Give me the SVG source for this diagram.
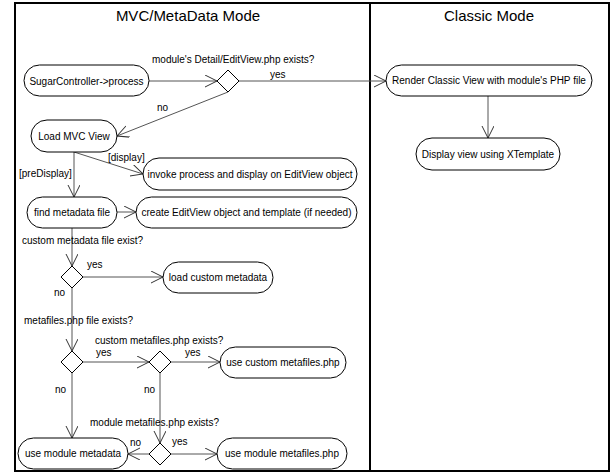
<svg xmlns="http://www.w3.org/2000/svg" width="612" height="475" viewBox="0 0 612 475">
<style>
.n{fill:#fff;stroke:#000;stroke-width:1}
.t{font-family:"Liberation Sans",Arial,sans-serif;font-size:10px;fill:#000}
.c{stroke:#555;stroke-width:1;fill:none;marker-end:url(#a)}
.h{font-family:"Liberation Sans",Arial,sans-serif;font-size:15px;fill:#000;text-anchor:middle}
</style>
<defs><marker id="a" markerWidth="14" markerHeight="14" refX="12" refY="6" orient="auto" markerUnits="userSpaceOnUse"><path d="M0,0L12,6L0,12" fill="none" stroke="#333" stroke-width="1"/></marker></defs>
<rect x="0" y="0" width="612" height="475" fill="#fff"/>
<rect x="15" y="3" width="594" height="468" fill="none" stroke="#000" stroke-width="2"/>
<line x1="370" y1="3" x2="370" y2="471" stroke="#000" stroke-width="2"/>
<text class="h" x="188" y="21">MVC/MetaData Mode</text>
<text class="h" x="489" y="21">Classic Mode</text>
<g id="connectors">
<line class="c" x1="149" y1="81" x2="217" y2="81"/>
<line class="c" x1="239" y1="81" x2="386" y2="81"/>
<line class="c" x1="228" y1="92" x2="117" y2="136"/>
<line class="c" x1="488" y1="96" x2="488" y2="138"/>
<line class="c" x1="74" y1="152" x2="143" y2="174"/>
<line class="c" x1="74" y1="152" x2="74" y2="197"/>
<line class="c" x1="117" y1="212" x2="136" y2="212"/>
<line class="c" x1="72" y1="228" x2="72" y2="266"/>
<line class="c" x1="83" y1="277" x2="163" y2="277"/>
<line class="c" x1="72" y1="288" x2="72" y2="351"/>
<line class="c" x1="83" y1="362" x2="149" y2="362"/>
<line class="c" x1="171" y1="362" x2="220" y2="362"/>
<line class="c" x1="72" y1="373" x2="72" y2="438"/>
<line class="c" x1="160" y1="373" x2="160" y2="443"/>
<line class="c" x1="149" y1="454" x2="128" y2="454"/>
<line class="c" x1="171" y1="454" x2="217" y2="454"/>
</g>
<g id="labels">
<text class="t" x="152" y="63">module's Detail/EditView.php exists?</text>
<text class="t" x="270" y="78">yes</text>
<text class="t" x="157" y="111">no</text>
<text class="t" x="108" y="161">[display]</text>
<text class="t" x="19" y="177">[preDisplay]</text>
<text class="t" x="22" y="244">custom metadata file exist?</text>
<text class="t" x="87" y="268">yes</text>
<text class="t" x="54" y="296">no</text>
<text class="t" x="24" y="324">metafiles.php file exists?</text>
<text class="t" x="95" y="344">custom metafiles.php exists?</text>
<text class="t" x="96" y="356">yes</text>
<text class="t" x="185" y="356">yes</text>
<text class="t" x="55" y="393">no</text>
<text class="t" x="144" y="393">no</text>
<text class="t" x="90" y="426">module metafiles.php exists?</text>
<text class="t" x="130" y="446">no</text>
<text class="t" x="172" y="445">yes</text>
</g>
<g id="n1"><rect class="n" x="24" y="65" width="125" height="31" rx="15.5"/><text class="t" x="86.5" y="84.5" text-anchor="middle">SugarController-&gt;process</text></g>
<g id="d1"><path class="n" d="M228,70L239,81L228,92L217,81Z"/></g>
<g id="n2"><rect class="n" x="31" y="120" width="86" height="32" rx="16"/><text class="t" x="74" y="140" text-anchor="middle">Load MVC View</text></g>
<g id="n3"><rect class="n" x="143" y="158" width="214" height="32" rx="16"/><text class="t" x="250" y="178" text-anchor="middle">invoke process and display on EditView object</text></g>
<g id="n4"><rect class="n" x="27" y="197" width="90" height="31" rx="15.5"/><text class="t" x="72" y="216" text-anchor="middle">find metadata file</text></g>
<g id="n5"><rect class="n" x="136" y="197" width="221" height="31" rx="15.5"/><text class="t" x="246.5" y="216" text-anchor="middle">create EditView object and template (if needed)</text></g>
<g id="d2"><path class="n" d="M72,266L83,277L72,288L61,277Z"/></g>
<g id="n6"><rect class="n" x="163" y="262" width="110" height="31" rx="15.5"/><text class="t" x="218" y="281" text-anchor="middle">load custom metadata</text></g>
<g id="d3"><path class="n" d="M72,351L83,362L72,373L61,362Z"/></g>
<g id="d4"><path class="n" d="M160,351L171,362L160,373L149,362Z"/></g>
<g id="n7"><rect class="n" x="220" y="347" width="126" height="31" rx="15.5"/><text class="t" x="283" y="366" text-anchor="middle">use custom metafiles.php</text></g>
<g id="n8"><rect class="n" x="18" y="438" width="110" height="31" rx="15.5"/><text class="t" x="73" y="457" text-anchor="middle">use module metadata</text></g>
<g id="d5"><path class="n" d="M160,443L171,454L160,465L149,454Z"/></g>
<g id="n9"><rect class="n" x="217" y="438" width="130" height="31" rx="15.5"/><text class="t" x="282" y="457" text-anchor="middle">use module metafiles.php</text></g>
<g id="n10"><rect class="n" x="386" y="65" width="206" height="31" rx="15.5"/><text class="t" x="489" y="84" text-anchor="middle">Render Classic View with module's PHP file</text></g>
<g id="n11"><rect class="n" x="416" y="138" width="144" height="32" rx="16"/><text class="t" x="488" y="158" text-anchor="middle">Display view using XTemplate</text></g>
</svg>
